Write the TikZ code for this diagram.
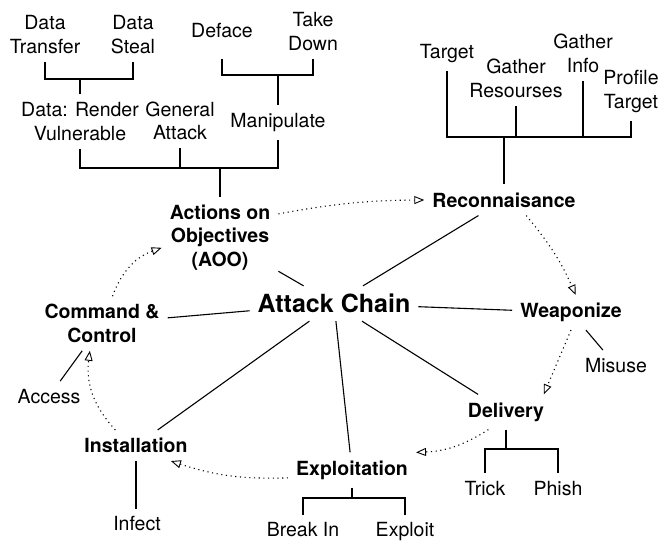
\documentclass[tikz,border=0pt]{standalone}
\usepackage{fontspec}
\setmainfont{TeX Gyre Heros}
\usetikzlibrary{arrows.meta}
\begin{document}
\begin{tikzpicture}[x=1pt, y=-1pt,
	leaf/.style={font=\fontsize{19.5}{23.5}\selectfont, align=center, inner sep=8pt},
	phase/.style={leaf, font=\fontsize{19.5}{23.5}\selectfont\bfseries},
	hub/.style={leaf, font=\fontsize{25}{30}\selectfont\bfseries},
	link/.style={line width=1.1pt},
	flow/.style={line width=1.1pt, dash pattern=on 1.1pt off 3.6pt, -{Triangle[open, length=10pt, width=8pt, line width=0.9pt]}}]
			\useasboundingbox (0,0) rectangle (669,543);
			\node[hub] at (334,303.5) (ac) {Attack Chain};
			\node[phase] at (504,200) (recon) {Reconnaisance};
			\node[phase] at (571,312.5) (weapon) {Weaponize};
			\node[phase] at (506,412) (delivery) {Delivery};
			\node[phase] at (352,470) (explo) {Exploitation};
			\node[phase] at (136,445.5) (inst) {Installation};
			\node[phase] at (102,323.5) (cc) {Command \&\\Control};
			\node[phase] at (220,237.5) (aoo) {Actions on\\Objectives\\(AOO)};
			\node[leaf] at (45,34.5) (dtrans) {Data\\Transfer};
			\node[leaf] at (133,34.5) (dsteal) {Data\\Steal};
			\node[leaf] at (222,31) (deface) {Deface};
			\node[leaf] at (313,31.5) (takedown) {Take\\Down};
			\node[leaf] at (80,121.5) (render) {Data: Render\\Vulnerable};
			\node[leaf] at (180,121) (general) {General\\Attack};
			\node[leaf] at (278,122.5) (manip) {Manipulate};
			\node[leaf] at (447,53.5) (target) {Target};
			\node[leaf] at (516,78.5) (resources) {Gather\\Resourses};
			\node[leaf] at (583,53.5) (info) {Gather\\Info};
			\node[leaf] at (631,91.5) (profile) {Profile\\Target};
			\node[leaf] at (616,365.5) (misuse) {Misuse};
			\node[leaf] at (485,488.5) (trick) {Trick};
			\node[leaf] at (558,488.5) (phish) {Phish};
			\node[leaf] at (303,530) (breakin) {Break In};
			\node[leaf] at (405,532) (exploit) {Exploit};
			\node[leaf] at (137,524) (infect) {Infect};
			\node[leaf] at (49,396.5) (access) {Access};
			\coordinate (jdata) at (80,79);
			\coordinate (jmanip) at (278,75);
			\coordinate (jaoo) at (220,168);
			\coordinate (jrecon) at (504,137);
			\coordinate (jdeliv) at (506,449);
			\coordinate (jexplo) at (352,498);
			\draw[link] (dtrans.south) |- (jdata) -| (dsteal.south);
			\draw[link] (jdata) -- (render.north);
			\draw[link] (deface.south |- takedown.south) |- (jmanip) -| (takedown.south);
			\draw[link] (jmanip) -- (manip.north);
			\draw[link] (render.south) |- (jaoo) -| (manip.south);
			\draw[link] (general.south) -- (general.south |- jaoo);
			\draw[link] (jaoo) -- (aoo.north);
			\draw[link] (target.south) |- (jrecon) -| (profile.south);
			\draw[link] (resources.south) -- (resources.south |- jrecon);
			\draw[link] (info.south) -- (info.south |- jrecon);
			\draw[line width=2pt] (jrecon) -- (recon.north);
			\draw[link] (delivery.south) -- (jdeliv);
			\draw[link] (trick.north) |- (jdeliv) -| (phish.north);
			\draw[link] (explo.south) -- (jexplo);
			\draw[link] (breakin.north) |- (jexplo) -| (exploit.north);
			\draw[link] (inst.south) -- (inst.south |- infect.north);
			\draw[link] (weapon) -- (misuse);
			\draw[link] (access) -- (cc);
			\draw[link]
			(ac)--(recon) (ac)--(weapon) (ac)--(delivery) (ac)--(explo) (ac)--(inst) (ac)--(cc) (ac)--(aoo);
			\draw[flow] (aoo.22) to[bend left=5] (recon.west);
			\draw[flow] (recon.-35) to[bend left=8] (weapon.75);
			\draw[flow] (weapon.south) -- (delivery.25);
			\draw[flow] (delivery.-135) to[bend left=15] (explo.north east);
			\draw[flow] (explo.-173) to[bend left=10] (inst.-24);
			\draw[flow] (inst.143) to[bend left=25] (cc.-114);
			\draw[flow] (cc.69) to[bend left=25] (aoo.190);
		\end{tikzpicture}
\end{document}
